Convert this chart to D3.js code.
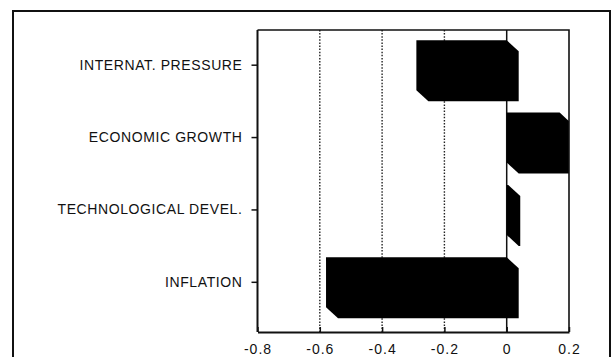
<!DOCTYPE html>
<html>
<head>
<meta charset="utf-8">
<script src="https://cdn.jsdelivr.net/npm/d3@7"></script>
<style>
  html, body { margin: 0; padding: 0; background: #fff; }
  svg { display: block; }
  text { font-family: "Liberation Sans", Arial, sans-serif; fill: #111; }
</style>
</head>
<body>
<svg id="chart" width="615" height="357"></svg>
<script>
// ---- data ----
const categories = ["INTERNAT. PRESSURE", "ECONOMIC GROWTH", "TECHNOLOGICAL DEVEL.", "INFLATION"];
const values = [-0.29, 0.17, 0.005, -0.58];
const xTicks = [-0.8, -0.6, -0.4, -0.2, 0, 0.2];
const xTickLabels = ["-0.8", "-0.6", "-0.4", "-0.2", "0", "0.2"];
const gridValues = [-0.6, -0.4, -0.2];

// ---- layout ----
const svg = d3.select("#chart");
const plot = { left: 257.5, right: 569, top: 30, bottom: 332 };
const depth = { dx: 12, dy: 11 };

// outer frame
svg.append("rect")
  .attr("x", 13).attr("y", 11).attr("width", 597).attr("height", 360)
  .attr("fill", "none").attr("stroke", "#111").attr("stroke-width", 2);

const x = d3.scaleLinear().domain([-0.8, 0.2]).range([plot.left, plot.right]);
const y = d3.scaleBand().domain(categories).range([29, 318.5])
  .paddingInner(0.31).paddingOuter(0.155);

// clip
svg.append("defs").append("clipPath").attr("id", "plotclip")
  .append("rect").attr("x", plot.left).attr("y", plot.top)
  .attr("width", plot.right - plot.left).attr("height", plot.bottom - plot.top);

// gridlines
svg.append("g").selectAll("line").data(gridValues).join("line")
  .attr("x1", d => x(d)).attr("x2", d => x(d))
  .attr("y1", plot.top).attr("y2", plot.bottom)
  .attr("stroke", "#222").attr("stroke-width", 1.4)
  .attr("stroke-dasharray", "1.5,1.6");
svg.append("line")
  .attr("x1", x(0)).attr("x2", x(0)).attr("y1", plot.top).attr("y2", plot.bottom)
  .attr("stroke", "#111").attr("stroke-width", 1.5);

// bars (extruded look)
const rows = categories.map((c, i) => ({ c, v: values[i] }));
svg.append("g").attr("clip-path", "url(#plotclip)")
  .selectAll("path").data(rows).join("path")
  .attr("d", d => {
    const x0 = x(Math.min(0, d.v)), x1 = x(Math.max(0, d.v));
    const y0 = y(d.c), y1 = y(d.c) + y.bandwidth();
    const p = [[x0, y0], [x1, y0], [x1 + depth.dx, y0 + depth.dy],
               [x1 + depth.dx, y1 + depth.dy], [x0 + depth.dx, y1 + depth.dy], [x0, y1]];
    return "M" + p.map(q => q.join(",")).join("L") + "Z";
  })
  .attr("fill", "#000");

// plot frame (top and right)
svg.append("path")
  .attr("d", `M${plot.left},${plot.top}H${plot.right}V${plot.bottom}`)
  .attr("fill", "none").attr("stroke", "#111").attr("stroke-width", 1.6);

// x axis
const xAxis = d3.axisBottom(x).tickValues(xTicks)
  .tickFormat((d, i) => xTickLabels[i])
  .tickSizeInner(-5).tickSizeOuter(0).tickPadding(12);
const gx = svg.append("g").attr("transform", `translate(0,${plot.bottom})`).call(xAxis);
gx.select(".domain").attr("stroke", "#111").attr("stroke-width", 2);
gx.selectAll(".tick line").attr("stroke", "#111").attr("stroke-width", 1.5);
gx.selectAll(".tick text").attr("font-size", 14).attr("fill", "#111")
  .attr("letter-spacing", "1px")
  .attr("font-family", "'Liberation Sans', Arial, sans-serif");

// y axis
const yAxis = d3.axisLeft(y).tickSizeInner(6).tickSizeOuter(0).tickPadding(9);
const gy = svg.append("g").attr("transform", `translate(${plot.left},0)`).call(yAxis);
gy.select(".domain").attr("stroke", "#111").attr("stroke-width", 2)
  .attr("d", `M0,${plot.top}V${plot.bottom}`);
gy.selectAll(".tick line").attr("stroke", "#111").attr("stroke-width", 1.5);
gy.selectAll(".tick text").attr("font-size", 14).attr("fill", "#111")
  .attr("letter-spacing", "0.6px")
  .attr("font-family", "'Liberation Sans', Arial, sans-serif");
</script>
</body>
</html>
